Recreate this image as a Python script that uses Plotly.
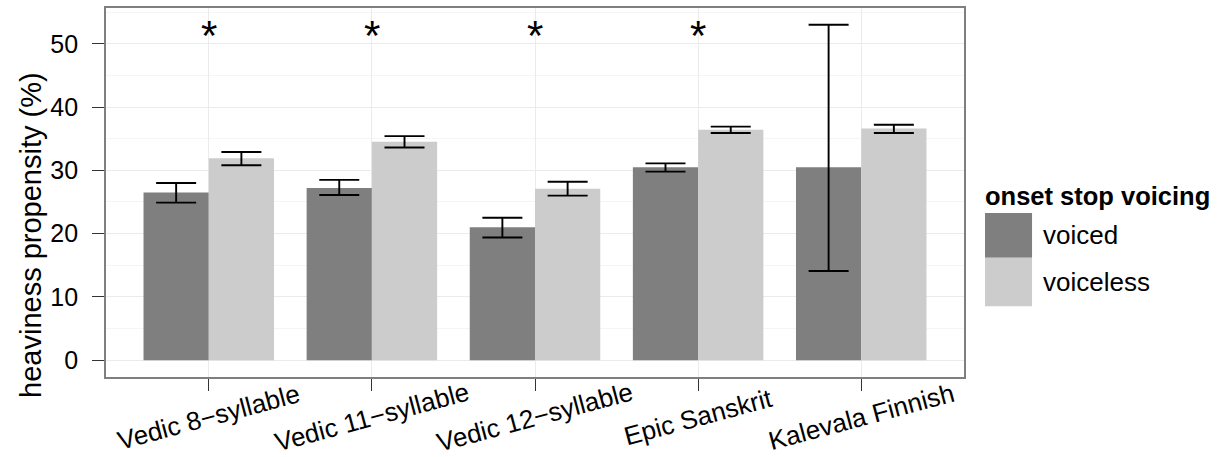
import plotly.graph_objects as go

categories = ["Vedic 8\u2212syllable", "Vedic 11\u2212syllable", "Vedic 12\u2212syllable",
              "Epic Sanskrit", "Kalevala Finnish"]
voiced = [26.5, 27.2, 21.0, 30.5, 30.5]
voiced_lo = [24.9, 26.1, 19.4, 29.8, 14.1]
voiced_hi = [28.0, 28.5, 22.5, 31.1, 53.0]
voiceless = [31.9, 34.5, 27.1, 36.4, 36.6]
voiceless_lo = [30.8, 33.6, 26.0, 35.9, 35.9]
voiceless_hi = [32.9, 35.4, 28.2, 36.9, 37.2]
significant = [True, True, True, True, False]
star_y = 51.3
y_ticks = [0, 10, 20, 30, 40, 50]
legend_title = "onset stop voicing"
series_names = ["voiced", "voiceless"]
colors = ["#7f7f7f", "#cccccc"]

FONT = "Liberation Sans, Arial, Helvetica, sans-serif"
x_idx = list(range(len(categories)))


def err(vals, lo, hi):
    return dict(type="data", symmetric=False,
                array=[h - v for v, h in zip(vals, hi)],
                arrayminus=[v - l for v, l in zip(vals, lo)],
                color="black", thickness=1.9, width=20)


fig = go.Figure()
fig.add_trace(go.Bar(x=x_idx, y=voiced, name=series_names[0], marker_color=colors[0],
                     marker_line_width=0, error_y=err(voiced, voiced_lo, voiced_hi),
                     showlegend=False))
fig.add_trace(go.Bar(x=x_idx, y=voiceless, name=series_names[1], marker_color=colors[1],
                     marker_line_width=0, error_y=err(voiceless, voiceless_lo, voiceless_hi),
                     showlegend=False))

annotations = []
# significance markers
for i, sig in enumerate(significant):
    if sig:
        annotations.append(dict(x=i, y=star_y, xref="x", yref="y", text="*",
                                showarrow=False, font=dict(family=FONT, size=42, color="black"),
                                yanchor="middle"))
# rotated category labels, centred under each tick
for i, lab in enumerate(categories):
    annotations.append(dict(x=i, y=-0.108, xref="x", yref="paper", text=lab,
                            showarrow=False, textangle=-15, borderpad=0,
                            font=dict(family=FONT, size=26, color="black"),
                            xanchor="center", yanchor="middle"))
# y axis title
annotations.append(dict(x=-0.0874, y=0.385, xref="paper", yref="paper",
                        text="heaviness propensity (%)", showarrow=False, textangle=-90,
                        font=dict(family=FONT, size=29, color="black"),
                        xanchor="center", yanchor="middle"))

# legend drawn by hand so the keys are large squares
shapes = []
key_x0, key_x1 = 1.0245, 1.0793
key_edges = [0.4447, 0.3235, 0.1914]
for k in range(2):
    shapes.append(dict(type="rect", xref="paper", yref="paper", x0=key_x0, x1=key_x1,
                       y0=key_edges[k + 1], y1=key_edges[k], fillcolor=colors[k],
                       line=dict(width=0), layer="above"))
    annotations.append(dict(x=1.0899, y=(key_edges[k] + key_edges[k + 1]) / 2,
                            xref="paper", yref="paper", text=series_names[k],
                            showarrow=False, xanchor="left", yanchor="middle",
                            font=dict(family=FONT, size=26, color="black")))
annotations.append(dict(x=1.0225, y=0.4906, xref="paper", yref="paper",
                        text="<b>" + legend_title + "</b>", showarrow=False,
                        xanchor="left", yanchor="middle",
                        font=dict(family=FONT, size=25.5, color="black")))

fig.update_layout(
    width=1230, height=457,
    margin=dict(l=106, r=266, t=6, b=80),
    paper_bgcolor="white", plot_bgcolor="white",
    barmode="group", bargap=0.2, bargroupgap=0,
    font=dict(family=FONT, size=24, color="black"),
    annotations=annotations, shapes=shapes,
)
fig.update_xaxes(
    range=[-0.63, 4.63], tickvals=x_idx, showticklabels=False,
    showgrid=True, gridcolor="#ebebeb", gridwidth=1.2,
    ticks="outside", ticklen=12, tickcolor="#333333", tickwidth=1.2,
    showline=True, mirror=True, linecolor="#7f7f7f", linewidth=1.8, zeroline=False,
)
fig.update_yaxes(
    range=[-2.65, 55.65], tickvals=y_ticks,
    showgrid=True, gridcolor="#ebebeb", gridwidth=1.2,
    minor=dict(dtick=5, tick0=5, showgrid=True, gridcolor="#f5f5f5", gridwidth=0.8, ticks=""),
    ticks="outside", ticklen=12, tickcolor="#333333", tickwidth=1.2,
    tickfont=dict(family=FONT, size=25, color="black"), ticklabelstandoff=9,
    showline=True, mirror=True, linecolor="#7f7f7f", linewidth=1.8, zeroline=False,
)

fig.write_html("out.html")
